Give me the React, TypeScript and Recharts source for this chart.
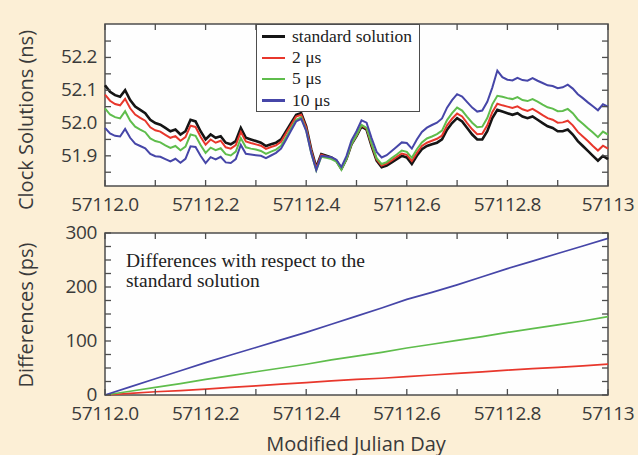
import React from 'react';
import { LineChart, Line, XAxis, YAxis, CartesianGrid, ReferenceArea, Legend } from 'recharts';

const BG = '#fcefd6';
const AXIS = '#4d4d4d';
const TEXT = '#3a3a3a';
const SANS = '"Open Sans", "Noto Sans", sans-serif';
const SERIF = '"Liberation Serif", "DejaVu Serif", serif';

const START_DAY = 57112;
const END_DAY = 57113;

// clock solutions (ns), sampled every 0.01 day
const CLOCK_STD = [
    52.115, 52.095, 52.085, 52.08, 52.1, 52.07, 52.05, 52.04, 52.03, 52.01,
    52.0, 51.995, 51.985, 51.975, 51.98, 51.965, 51.975, 52.01, 52.005, 51.975,
    51.95, 51.965, 51.955, 51.96, 51.94, 51.935, 51.945, 51.985, 51.955, 51.95,
    51.945, 51.94, 51.93, 51.935, 51.94, 51.95, 51.975, 52.0, 52.025, 52.03,
    51.99, 51.92, 51.865, 51.905, 51.9, 51.895, 51.885, 51.86, 51.89, 51.935,
    51.96, 51.99, 51.98, 51.93, 51.885, 51.865, 51.87, 51.88, 51.89, 51.9,
    51.895, 51.875, 51.9, 51.92, 51.93, 51.935, 51.94, 51.95, 51.98, 52.0,
    52.015, 52.005, 51.985, 51.965, 51.95, 51.95, 51.975, 52.015, 52.04, 52.035,
    52.03, 52.025, 52.03, 52.02, 52.015, 52.02, 52.01, 52.0, 51.99, 51.985,
    51.975, 51.975, 51.98, 51.965, 51.945, 51.93, 51.915, 51.9, 51.885, 51.9,
    51.89,
];
const CLOCK_2US = [
    52.087, 52.068, 52.058, 52.054, 52.074, 52.045, 52.026, 52.016, 52.007, 51.987,
    51.978, 51.974, 51.964, 51.955, 51.96, 51.946, 51.957, 51.992, 51.988, 51.958,
    51.934, 51.95, 51.94, 51.946, 51.926, 51.922, 51.933, 51.973, 51.944, 51.939,
    51.935, 51.931, 51.921, 51.927, 51.932, 51.943, 51.969, 51.994, 52.02, 52.025,
    51.986, 51.917, 51.862, 51.903, 51.898, 51.894, 51.885, 51.86, 51.891, 51.936,
    51.962, 51.993, 51.983, 51.934, 51.889, 51.87, 51.876, 51.886, 51.897, 51.907,
    51.903, 51.884, 51.909, 51.93, 51.94, 51.946, 51.952, 51.962, 51.993, 52.013,
    52.029, 52.02, 52.0, 51.981, 51.966, 51.967, 51.993, 52.033, 52.059, 52.054,
    52.05, 52.046, 52.051, 52.042, 52.037, 52.043, 52.034, 52.024, 52.015, 52.01,
    52.001, 52.002, 52.007, 51.993, 51.973, 51.959, 51.945, 51.93, 51.916, 51.931,
    51.922,
];
const CLOCK_5US = [
    52.045, 52.026, 52.018, 52.014, 52.036, 52.007, 51.989, 51.98, 51.972, 51.953,
    51.945, 51.941, 51.932, 51.924, 51.93, 51.917, 51.928, 51.965, 51.961, 51.933,
    51.909, 51.925, 51.917, 51.923, 51.905, 51.901, 51.913, 51.954, 51.926, 51.922,
    51.919, 51.915, 51.906, 51.913, 51.919, 51.931, 51.957, 51.984, 52.01, 52.017,
    51.978, 51.909, 51.856, 51.897, 51.894, 51.89, 51.882, 51.858, 51.89, 51.936,
    51.963, 51.994, 51.985, 51.937, 51.893, 51.875, 51.881, 51.893, 51.904, 51.916,
    51.912, 51.894, 51.92, 51.941, 51.953, 51.959, 51.966, 51.977, 52.009, 52.03,
    52.047, 52.038, 52.019, 52.001, 51.987, 51.989, 52.015, 52.057, 52.083, 52.08,
    52.076, 52.073, 52.079, 52.07, 52.067, 52.073, 52.065, 52.056, 52.048, 52.044,
    52.036, 52.037, 52.043, 52.03, 52.011, 51.998, 51.984, 51.971, 51.957, 51.974,
    51.965,
];
const CLOCK_10US = [
    51.985, 51.968, 51.961, 51.959, 51.982, 51.955, 51.937, 51.93, 51.923, 51.906,
    51.899, 51.897, 51.89, 51.883, 51.891, 51.879, 51.891, 51.929, 51.927, 51.9,
    51.878, 51.896, 51.889, 51.897, 51.88, 51.878, 51.89, 51.933, 51.906, 51.904,
    51.902, 51.9, 51.893, 51.901, 51.909, 51.922, 51.949, 51.977, 52.005, 52.013,
    51.976, 51.909, 51.857, 51.9, 51.898, 51.896, 51.888, 51.866, 51.899, 51.947,
    51.975, 52.008, 52.001, 51.954, 51.912, 51.895, 51.902, 51.915, 51.928, 51.941,
    51.939, 51.922, 51.95, 51.973, 51.986, 51.994, 52.001, 52.014, 52.047, 52.07,
    52.088, 52.081, 52.064, 52.047, 52.035, 52.038, 52.065, 52.108, 52.16, 52.14,
    52.132, 52.13, 52.138, 52.131, 52.129, 52.137, 52.129, 52.122, 52.115, 52.113,
    52.106, 52.109, 52.117, 52.105, 52.088, 52.076, 52.063, 52.051, 52.039, 52.057,
    52.05,
];

// differences (ps), sampled every 0.05 day
const DIFF_2US = [0, 3, 6, 8, 11, 14, 17, 20, 23, 26, 29, 31, 34, 37, 40, 43, 46, 49, 51, 54, 57];
const DIFF_5US = [0, 7, 14, 21, 29, 36, 43, 50, 57, 65, 72, 79, 87, 94, 101, 108, 116, 123, 130, 137, 145];
const DIFF_10US = [0, 15, 30, 45, 60, 74, 88, 102, 116, 131, 146, 161, 177, 190, 204, 219, 234, 248, 262, 276, 290];

const X_TICKS = [57112, 57112.1, 57112.2, 57112.3, 57112.4, 57112.5, 57112.6, 57112.7, 57112.8, 57112.9, 57113];
const CLOCK_TICKS = [51.85, 51.9, 51.95, 52.0, 52.05, 52.1, 52.15, 52.2, 52.25];
const CLOCK_LABELS = [51.9, 52.0, 52.1, 52.2];
const DIFF_TICKS = [0, 25, 50, 75, 100, 125, 150, 175, 200, 225, 250, 275, 300];
const DIFF_LABELS = [0, 100, 200, 300];

const SERIES = [
    { key: 'std', label: 'standard solution', color: '#151515', width: 2.6 },
    { key: 'us2', label: '2 μs', color: '#e8372c', width: 2 },
    { key: 'us5', label: '5 μs', color: '#5fbd4c', width: 2 },
    { key: 'us10', label: '10 μs', color: '#4646a8', width: 2 },
];

const clockData = CLOCK_STD.map((v, i) => ({
    t: START_DAY + i / 100,
    std: v,
    us2: CLOCK_2US[i],
    us5: CLOCK_5US[i],
    us10: CLOCK_10US[i],
}));

const diffData = DIFF_10US.map((v, i) => ({
    t: START_DAY + i / 20,
    us2: DIFF_2US[i],
    us5: DIFF_5US[i],
    us10: v,
}));

type Box = { left: number; right: number; top: number; bottom: number };

const TOP_BOX: Box = { left: 105, right: 608, top: 24, bottom: 186 };
const BOT_BOX: Box = { left: 105, right: 608, top: 18, bottom: 180 };
const TICK_LEN = 6;

const fmtDay = (v: number) => (v > END_DAY - 1e-6 ? '57113' : v.toFixed(1));

// ticks are drawn inward on both sides of the frame, labels only on major ones
function renderXTick(props: any, box: Box) {
    const { x, payload } = props;
    const v = payload.value as number;
    const major = Math.round((v - START_DAY) * 10) % 2 === 0;
    return (
        <g>
            <line x1={x} x2={x} y1={box.bottom} y2={box.bottom - TICK_LEN} stroke={AXIS} strokeWidth={1.3} />
            <line x1={x} x2={x} y1={box.top} y2={box.top + TICK_LEN} stroke={AXIS} strokeWidth={1.3} />
            {major && (
                <text x={x} y={box.bottom + 18} textAnchor="middle" dominantBaseline="central"
                    fill={TEXT} fontSize={19} fontFamily={SANS} letterSpacing={-0.4}>
                    {fmtDay(v)}
                </text>
            )}
        </g>
    );
}

function renderYTick(props: any, box: Box, labels: number[], fmt: (v: number) => string) {
    const { y, payload } = props;
    const v = payload.value as number;
    const show = labels.some(l => Math.abs(l - v) < 1e-6);
    return (
        <g>
            <line x1={box.left} x2={box.left + TICK_LEN} y1={y} y2={y} stroke={AXIS} strokeWidth={1.3} />
            <line x1={box.right} x2={box.right - TICK_LEN} y1={y} y2={y} stroke={AXIS} strokeWidth={1.3} />
            {show && (
                <text x={box.left - 8} y={y - 1} textAnchor="end" dominantBaseline="central"
                    fill={TEXT} fontSize={19} fontFamily={SANS} letterSpacing={-0.4}>
                    {fmt(v)}
                </text>
            )}
        </g>
    );
}

function LegendBox() {
    return (
        <div style={{ background: '#fff', border: `1.5px solid ${AXIS}`, width: 164, height: 88, padding: '1px 0 0 0', boxSizing: 'border-box' }}>
            {SERIES.map(s => (
                <div key={`lg-${s.key}`} style={{ display: 'flex', alignItems: 'center', height: 21.3, whiteSpace: 'nowrap' }}>
                    <span style={{ display: 'inline-block', width: 23, height: 2.4, background: s.color, marginLeft: 5, marginRight: 7, flexShrink: 0 }} />
                    <span style={{ fontFamily: SERIF, fontSize: 17.5, color: '#222', lineHeight: 1 }}>{s.label}</span>
                </div>
            ))}
        </div>
    );
}

export default function App() {
    return (
        <div style={{ position: 'absolute', left: 0, top: 0, width: 638, height: 455, background: BG, overflow: 'hidden' }}>
            <div style={{ position: 'absolute', left: 0, top: 215 }}>
                <LineChart width={638} height={240} data={diffData} margin={{ top: 18, right: 30, bottom: 0, left: 0 }}>
                    <CartesianGrid horizontal={false} vertical={false} fill="#fefefe" />
                    <XAxis dataKey="t" type="number" domain={[START_DAY, END_DAY]} ticks={X_TICKS} interval={0}
                        height={60} axisLine={false} tickLine={false} tick={(p: any) => renderXTick(p, BOT_BOX)} />
                    <YAxis type="number" domain={[0, 300]} ticks={DIFF_TICKS} interval={0} width={105}
                        axisLine={false} tickLine={false}
                        tick={(p: any) => renderYTick(p, BOT_BOX, DIFF_LABELS, v => String(v))} />
                    {SERIES.slice(1).map(s => (
                        <Line key={`dif-${s.key}`} dataKey={s.key} stroke={s.color} strokeWidth={1.7}
                            dot={false} activeDot={false} isAnimationActive={false} type="linear" />
                    ))}
                    <ReferenceArea x1={START_DAY} x2={END_DAY} y1={0} y2={300} fill="none" stroke={AXIS} strokeWidth={1.5} />
                </LineChart>
            </div>

            <div style={{ position: 'absolute', left: 0, top: 0 }}>
                <LineChart width={638} height={226} data={clockData} margin={{ top: 24, right: 30, bottom: 0, left: 0 }}>
                    <CartesianGrid horizontal={false} vertical={false} fill="#fefefe" />
                    <XAxis dataKey="t" type="number" domain={[START_DAY, END_DAY]} ticks={X_TICKS} interval={0}
                        height={40} axisLine={false} tickLine={false} tick={(p: any) => renderXTick(p, TOP_BOX)} />
                    <YAxis type="number" domain={[51.808, 52.302]} ticks={CLOCK_TICKS} interval={0} width={105}
                        axisLine={false} tickLine={false} allowDataOverflow
                        tick={(p: any) => renderYTick(p, TOP_BOX, CLOCK_LABELS, v => v.toFixed(1))} />
                    {SERIES.map(s => (
                        <Line key={`clk-${s.key}`} dataKey={s.key} stroke={s.color} strokeWidth={s.width}
                            dot={false} activeDot={false} isAnimationActive={false} type="linear" />
                    ))}
                    <ReferenceArea x1={START_DAY} x2={END_DAY} y1={51.808} y2={52.302} fill="none" stroke={AXIS} strokeWidth={1.5} />
                    <Legend layout="vertical" align="center" verticalAlign="middle"
                        wrapperStyle={{ left: 256, top: 24, width: 164, height: 88 }} content={() => <LegendBox />} />
                </LineChart>
            </div>

            {/* axis titles and the note */}
            <div style={{ position: 'absolute', left: 25, top: 120, transform: 'translate(-50%, -50%) rotate(-90deg)',
                whiteSpace: 'nowrap', fontFamily: SANS, fontSize: 20, color: TEXT }}>
                Clock Solutions (ns)
            </div>
            <div style={{ position: 'absolute', left: 25, top: 315, transform: 'translate(-50%, -50%) rotate(-90deg)',
                whiteSpace: 'nowrap', fontFamily: SANS, fontSize: 20, color: TEXT }}>
                Differences (ps)
            </div>
            <div style={{ position: 'absolute', left: 356, top: 443, transform: 'translate(-50%, -50%)',
                whiteSpace: 'nowrap', fontFamily: SANS, fontSize: 20, color: TEXT }}>
                Modified Julian Day
            </div>
            <div style={{ position: 'absolute', left: 126, top: 251, fontFamily: SERIF, fontSize: 19.5,
                lineHeight: '20px', color: '#222', whiteSpace: 'nowrap' }}>
                Differences with respect to the<br />standard solution
            </div>
        </div>
    );
}
